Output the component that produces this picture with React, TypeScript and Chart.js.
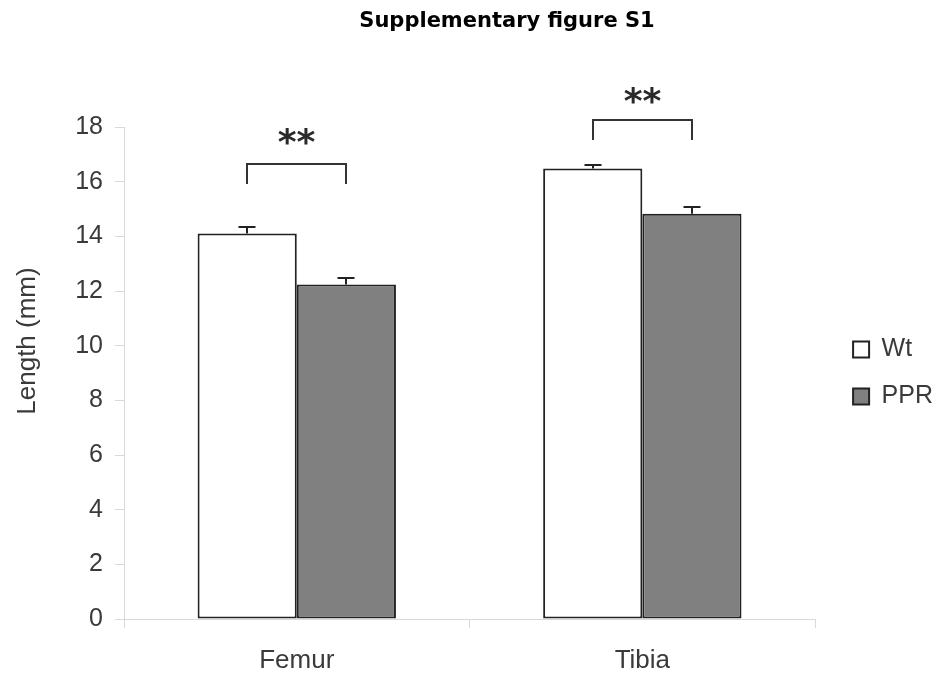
import React, { useEffect, useRef } from 'react';
import { Chart, registerables } from 'chart.js';

Chart.register(...registerables);

// ---- data ----
const categories = ['Femur', 'Tibia'];
const seriesNames = ['Wt', 'PPR'];
const wtValues = [14.1, 16.48];
const pprValues = [12.24, 14.83];
const wtErrors = [0.24, 0.14];
const pprErrors = [0.24, 0.26];
const yTicks = [0, 2, 4, 6, 8, 10, 12, 14, 16, 18];
const bracketTop = [16.63, 18.24];
const bracketFoot = [15.93, 17.54];
const starLevel = [17.35, 18.87];
const significance = ['**', '**'];
const titleText = 'Supplementary figure S1';
const yAxisTitle = 'Length (mm)';

const FONT = '"Liberation Sans", Arial, sans-serif';
const AXIS_GRAY = '#d9d9d9';
const TEXT = '#3a3a3a';
const EDGE = '#222222';

const annotationPlugin = {
  id: 'annotations',
  afterDatasetsDraw(chart: any) {
    const ctx = chart.ctx;
    const y = chart.scales.y;
    const metas = [chart.getDatasetMeta(0), chart.getDatasetMeta(1)];
    const vals = [wtValues, pprValues];
    const errs = [wtErrors, pprErrors];
    ctx.save();
    ctx.strokeStyle = EDGE;
    ctx.lineWidth = 2;
    metas.forEach((meta: any, d: number) => {
      meta.data.forEach((bar: any, i: number) => {
        const x = Math.round(bar.x);
        const y0 = y.getPixelForValue(vals[d][i]);
        const y1 = Math.round(y.getPixelForValue(vals[d][i] + errs[d][i]));
        ctx.beginPath();
        ctx.moveTo(x, y0);
        ctx.lineTo(x, y1);
        ctx.moveTo(x - 8.5, y1);
        ctx.lineTo(x + 8.5, y1);
        ctx.stroke();
      });
    });
    categories.forEach((_, i) => {
      const xl = Math.round(metas[0].data[i].x);
      const xr = Math.round(metas[1].data[i].x);
      const yt = Math.round(y.getPixelForValue(bracketTop[i]));
      const yf = Math.round(y.getPixelForValue(bracketFoot[i]));
      ctx.strokeStyle = '#333333';
      ctx.beginPath();
      ctx.moveTo(xl, yf);
      ctx.lineTo(xl, yt);
      ctx.lineTo(xr, yt);
      ctx.lineTo(xr, yf);
      ctx.stroke();
      ctx.font = 'bold 36px "DejaVu Sans"';
      ctx.textAlign = 'center';
      ctx.textBaseline = 'middle';
      ctx.fillStyle = '#2a2a2a';
      ctx.fillText(significance[i], (xl + xr) / 2, y.getPixelForValue(starLevel[i]));
    });
    ctx.restore();
  },
  afterDraw(chart: any) {
    const ctx = chart.ctx;
    ctx.save();
    ctx.fillStyle = '#000000';
    ctx.font = 'bold 21px "DejaVu Sans"';
    ctx.textAlign = 'center';
    ctx.textBaseline = 'alphabetic';
    ctx.fillText(titleText, 507, 27);
    ctx.translate(28, 341);
    ctx.rotate(-Math.PI / 2);
    ctx.fillStyle = TEXT;
    ctx.font = `26px ${FONT}`;
    ctx.textBaseline = 'middle';
    ctx.fillText(yAxisTitle, 0, 0);
    ctx.restore();
  },
};

export default function App() {
  const ref = useRef<HTMLCanvasElement | null>(null);

  useEffect(() => {
    document.body.style.margin = '0';
    document.body.style.overflow = 'hidden';
    const canvas = ref.current;
    if (!canvas) return;
    const chart = new Chart(canvas, {
      type: 'bar',
      data: {
        labels: categories,
        datasets: [
          {
            label: seriesNames[0],
            data: wtValues,
            backgroundColor: '#ffffff',
            borderColor: EDGE,
            borderWidth: 2,
            borderSkipped: false,
          },
          {
            label: seriesNames[1],
            data: pprValues,
            backgroundColor: '#808080',
            borderColor: EDGE,
            borderWidth: 2,
            borderSkipped: false,
          },
        ],
      },
      options: {
        animation: false,
        responsive: false,
        devicePixelRatio: 1,
        events: [],
        layout: { padding: { top: 127, left: 0, right: 0, bottom: 0 } },
        datasets: {
          bar: { categoryPercentage: 0.574, barPercentage: 1.0 },
        },
        plugins: {
          title: { display: false },
          tooltip: { enabled: false },
          legend: {
            position: 'right',
            fullSize: false,
            labels: {
              boxWidth: 16,
              boxHeight: 16,
              padding: 22,
              color: TEXT,
              font: { family: FONT, size: 25 },
            },
          },
        },
        scales: {
          x: {
            grid: {
              offset: true,
              drawOnChartArea: false,
              drawTicks: true,
              tickLength: 9,
              color: AXIS_GRAY,
            },
            border: { display: true, color: AXIS_GRAY, width: 1 },
            ticks: {
              color: TEXT,
              padding: 17,
              font: { family: FONT, size: 26 },
            },
            afterFit: (s: any) => {
              s.height = 54;
            },
          },
          y: {
            min: 0,
            max: 18,
            afterBuildTicks: (s: any) => {
              s.ticks = yTicks.map((v) => ({ value: v }));
            },
            grid: {
              drawOnChartArea: false,
              drawTicks: true,
              tickLength: 9,
              color: AXIS_GRAY,
            },
            border: { display: true, color: AXIS_GRAY, width: 1 },
            ticks: {
              color: TEXT,
              padding: 12,
              font: { family: FONT, size: 25 },
            },
            afterFit: (s: any) => {
              s.width = 124;
            },
          },
          yR: {
            axis: 'y',
            type: 'linear',
            position: 'right',
            display: true,
            grid: { display: false },
            border: { display: false },
            ticks: { display: false },
            afterFit: (s: any) => {
              s.width = 16;
            },
          },
        },
      },
      plugins: [annotationPlugin],
    } as any);
    return () => chart.destroy();
  }, []);

  return (
    <div style={{ position: 'relative', width: 943, height: 673 }}>
      <canvas ref={ref} width={943} height={673} style={{ display: 'block' }} />
    </div>
  );
}
